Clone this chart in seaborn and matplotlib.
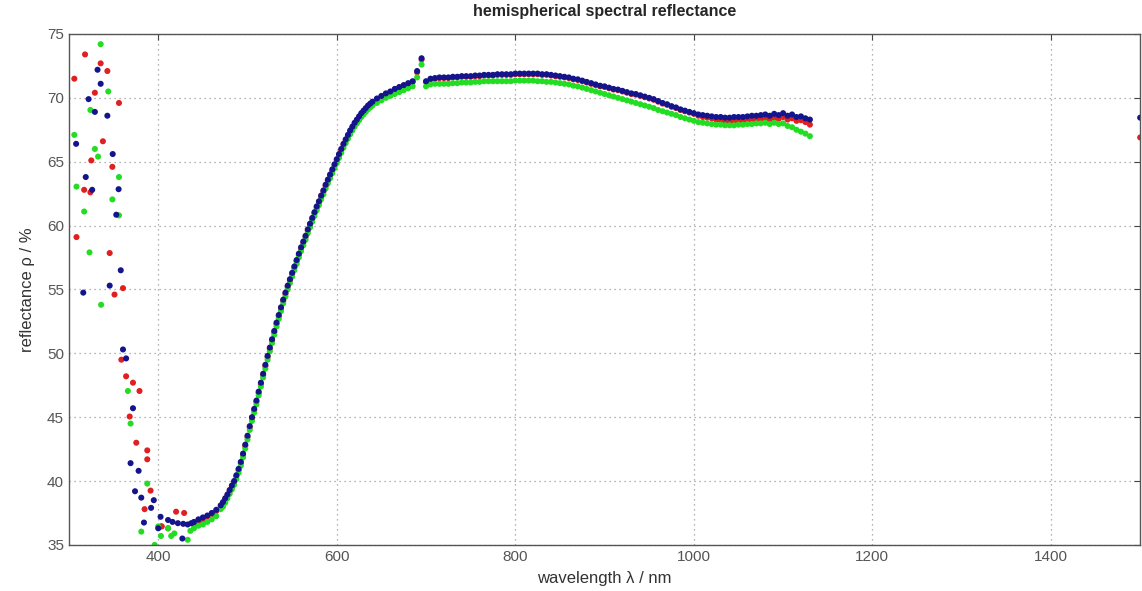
import numpy as np
import pandas as pd
import matplotlib
matplotlib.use("Agg")
import matplotlib.pyplot as plt
import seaborn as sns

# wavelength grid of the smooth part of the spectrum (nm)
wl_main = np.concatenate([np.arange(440, 471, 5),
                          np.arange(472.5, 641, 2.5),
                          np.arange(645, 1131, 5)])

blue_main = [
    36.8, 37.0, 37.15, 37.3, 37.5, 37.75, 38.1,
    38.35, 38.65, 38.95, 39.3, 39.65, 40.0, 40.45, 40.95, 41.5, 42.15,
    42.85, 43.55, 44.3, 45.0, 45.65, 46.3, 47.0, 47.7, 48.4, 49.1,
    49.8, 50.45, 51.1, 51.75, 52.4, 53.0, 53.6, 54.2, 54.75, 55.3,
    55.8, 56.3, 56.8, 57.3, 57.8, 58.3, 58.75, 59.2, 59.7, 60.15,
    60.6, 61.05, 61.5, 61.9, 62.35, 62.75, 63.2, 63.6, 64.0, 64.4,
    64.8, 65.2, 65.6, 66.0, 66.4, 66.75, 67.1, 67.45, 67.75, 68.05,
    68.3, 68.55, 68.8, 69.0, 69.2, 69.4, 69.55, 69.7,
    69.95, 70.15, 70.35, 70.5, 70.7, 70.85, 71.0, 71.15, 71.3, 72.1,
    73.1, 71.3, 71.5, 71.55, 71.6, 71.6, 71.6, 71.65, 71.65, 71.7,
    71.7, 71.7, 71.75, 71.75, 71.8, 71.8, 71.8, 71.85, 71.85, 71.85,
    71.85, 71.9, 71.9, 71.9, 71.9, 71.9, 71.9, 71.85, 71.85, 71.8,
    71.75, 71.7, 71.65, 71.6, 71.5, 71.45, 71.35, 71.25, 71.15, 71.05,
    70.95, 70.9, 70.8, 70.7, 70.65, 70.55, 70.45, 70.35, 70.3, 70.2,
    70.1, 70.0, 69.9, 69.75, 69.6, 69.5, 69.35, 69.25, 69.1, 69.0,
    68.9, 68.8, 68.7, 68.65, 68.6, 68.55, 68.5, 68.5, 68.45, 68.45,
    68.5, 68.5, 68.5, 68.55, 68.6, 68.6, 68.65, 68.7, 68.6, 68.75,
    68.65, 68.8, 68.6, 68.7, 68.5, 68.55, 68.4, 68.3,
]

green_main = [
    36.3, 36.5, 36.6, 36.8, 37.0, 37.25, 37.8,
    38.0, 38.3, 38.65, 39.0, 39.35, 39.7, 40.15, 40.65, 41.2, 41.85,
    42.55, 43.25, 44.0, 44.7, 45.35, 46.0, 46.7, 47.4, 48.1, 48.8,
    49.5, 50.15, 50.8, 51.45, 52.1, 52.7, 53.3, 53.9, 54.45, 55.0,
    55.5, 56.0, 56.5, 57.0, 57.5, 58.0, 58.45, 58.9, 59.4, 59.85,
    60.3, 60.75, 61.2, 61.6, 62.05, 62.45, 62.9, 63.3, 63.7, 64.1,
    64.5, 64.9, 65.3, 65.7, 66.1, 66.45, 66.8, 67.15, 67.45, 67.75,
    68.0, 68.25, 68.5, 68.7, 68.9, 69.1, 69.25, 69.4,
    69.6, 69.8, 70.0, 70.15, 70.3, 70.45, 70.6, 70.75, 70.9, 71.6,
    72.6, 70.9, 71.05, 71.1, 71.1, 71.1, 71.1, 71.15, 71.15, 71.2,
    71.2, 71.2, 71.25, 71.25, 71.3, 71.3, 71.3, 71.3, 71.3, 71.3,
    71.3, 71.35, 71.35, 71.35, 71.35, 71.35, 71.3, 71.3, 71.25, 71.25,
    71.2, 71.15, 71.1, 71.05, 70.95, 70.9, 70.8, 70.7, 70.6, 70.5,
    70.4, 70.3, 70.2, 70.1, 70.0, 69.9, 69.8, 69.7, 69.6, 69.5,
    69.4, 69.3, 69.2, 69.05, 68.95, 68.85, 68.75, 68.65, 68.5, 68.4,
    68.3, 68.2, 68.1, 68.05, 68.0, 67.95, 67.9, 67.9, 67.85, 67.85,
    67.85, 67.9, 67.9, 67.95, 67.95, 68.0, 68.0, 68.05, 67.95, 68.05,
    67.95, 68.0, 67.8, 67.7, 67.5, 67.35, 67.2, 67.0,
]

red_main = [
    36.6, 36.8, 37.0, 37.2, 37.4, 37.65, 38.0,
    38.25, 38.55, 38.85, 39.2, 39.55, 39.9, 40.35, 40.85, 41.4, 42.05,
    42.75, 43.45, 44.2, 44.9, 45.55, 46.2, 46.9, 47.6, 48.3, 49.0,
    49.7, 50.35, 51.0, 51.65, 52.3, 52.9, 53.5, 54.1, 54.65, 55.2,
    55.7, 56.2, 56.7, 57.2, 57.7, 58.2, 58.65, 59.1, 59.6, 60.05,
    60.5, 60.95, 61.4, 61.8, 62.25, 62.65, 63.1, 63.5, 63.9, 64.3,
    64.7, 65.1, 65.5, 65.9, 66.3, 66.65, 67.0, 67.35, 67.65, 67.95,
    68.2, 68.45, 68.7, 68.9, 69.1, 69.3, 69.45, 69.6,
    69.9, 70.1, 70.3, 70.45, 70.65, 70.8, 70.95, 71.1, 71.25, 72.0,
    73.0, 71.25, 71.45, 71.5, 71.55, 71.55, 71.55, 71.6, 71.6, 71.65,
    71.65, 71.65, 71.7, 71.7, 71.75, 71.75, 71.75, 71.8, 71.8, 71.8,
    71.8, 71.85, 71.85, 71.85, 71.85, 71.85, 71.85, 71.8, 71.8, 71.75,
    71.7, 71.65, 71.6, 71.55, 71.45, 71.4, 71.3, 71.2, 71.1, 71.0,
    70.9, 70.85, 70.75, 70.65, 70.6, 70.5, 70.4, 70.3, 70.25, 70.15,
    70.05, 69.95, 69.85, 69.7, 69.55, 69.45, 69.3, 69.2, 69.05, 68.95,
    68.85, 68.75, 68.6, 68.5, 68.45, 68.4, 68.3, 68.25, 68.2, 68.15,
    68.2, 68.2, 68.2, 68.25, 68.3, 68.3, 68.35, 68.4, 68.3, 68.45,
    68.35, 68.5, 68.3, 68.4, 68.2, 68.25, 68.1, 67.9,
]

# noisy short-wavelength readings (and the lone points at 1500 nm)
red_uv_wl = [306, 318, 329, 335.5, 343, 356, 338, 325, 348.6, 317, 324,
             308.4, 345.6, 360.5, 351, 358.7, 364, 371.7, 379, 368, 375.4,
             387.7, 387.7, 391.4, 384.7, 403, 404, 411, 420, 429, 1500]
red_uv = [71.5, 73.4, 70.4, 72.7, 72.1, 69.6, 66.6, 65.1, 64.6, 62.8, 62.6,
          59.1, 57.85, 55.1, 54.6, 49.5, 48.2, 47.7, 47.05, 45.05, 43.0,
          42.4, 41.7, 39.25, 37.8, 36.45, 36.45, 36.3, 37.6, 37.5, 66.9]

green_uv_wl = [335.5, 344, 324, 306, 329, 332.6, 356, 308.4, 348.6, 317,
               356, 323, 336, 366, 369, 387.7, 381, 396, 400, 403, 411,
               414.5, 418, 433, 436]
green_uv = [74.2, 70.5, 69.05, 67.1, 66.0, 65.4, 63.8, 63.05, 62.05, 61.1,
            60.8, 57.9, 53.8, 47.05, 44.5, 39.8, 36.04, 35.0, 36.45, 35.7,
            36.3, 35.7, 35.9, 35.4, 36.1]

blue_uv_wl = [332, 335.5, 322, 329, 343, 308, 349, 318.8, 326, 355.6, 353,
              358, 345.6, 316, 360.5, 364, 371.7, 369, 378, 374, 381, 395,
              392, 384, 400, 402.6, 411, 416, 422, 427, 428, 433, 437, 1500]
blue_uv = [72.2, 71.1, 69.9, 68.9, 68.6, 66.4, 65.6, 63.8, 62.8, 62.85, 60.85,
           56.5, 55.3, 54.75, 50.3, 49.6, 45.7, 41.4, 40.8, 39.2, 38.7, 38.5,
           37.9, 36.75, 36.3, 37.2, 36.95, 36.8, 36.7, 35.5, 36.65, 36.6,
           36.7, 68.45]

x_ticks = [400, 600, 800, 1000, 1200, 1400]
y_ticks = [35, 40, 45, 50, 55, 60, 65, 70, 75]

frames = []
for name, wl_uv, uv, main in [("red", red_uv_wl, red_uv, red_main),
                              ("green", green_uv_wl, green_uv, green_main),
                              ("blue", blue_uv_wl, blue_uv, blue_main)]:
    frames.append(pd.DataFrame({"wl": list(wl_uv) + list(wl_main),
                                "rho": list(uv) + list(main),
                                "sample": name}))
df = pd.concat(frames, ignore_index=True)

sns.set_style("white")
plt.rcParams["font.family"] = ["Liberation Sans", "DejaVu Sans"]

fig = plt.figure(figsize=(11.42, 5.91), dpi=100)
ax = fig.add_axes([0.0604, 0.078, 0.938, 0.8645])

palette = {"red": "#e02020", "green": "#22dd22", "blue": "#14148c"}
sns.scatterplot(data=df, x="wl", y="rho", hue="sample", palette=palette,
                s=19, linewidth=0, legend=False, ax=ax)

ax.set_xlim(300, 1500)
ax.set_ylim(35, 75)
ax.set_xticks(x_ticks)
ax.set_yticks(y_ticks)
ax.grid(True, linestyle=(0, (1, 3)), color="#9a9a9a", linewidth=0.9)
ax.tick_params(direction="in", length=4, colors="#444444", labelsize=11,
               labelcolor="#555555", top=True, right=True)
for sp in ax.spines.values():
    sp.set_color("#555555")
    sp.set_linewidth(1.0)

ax.set_title("hemispherical spectral reflectance", fontsize=11.5,
             fontweight="bold", pad=13)
ax.set_xlabel("wavelength λ / nm", fontsize=12, color="#333333", labelpad=5)
ax.set_ylabel("reflectance ρ / %", fontsize=12, color="#333333", labelpad=9)

fig.savefig("out.png", dpi=100)
